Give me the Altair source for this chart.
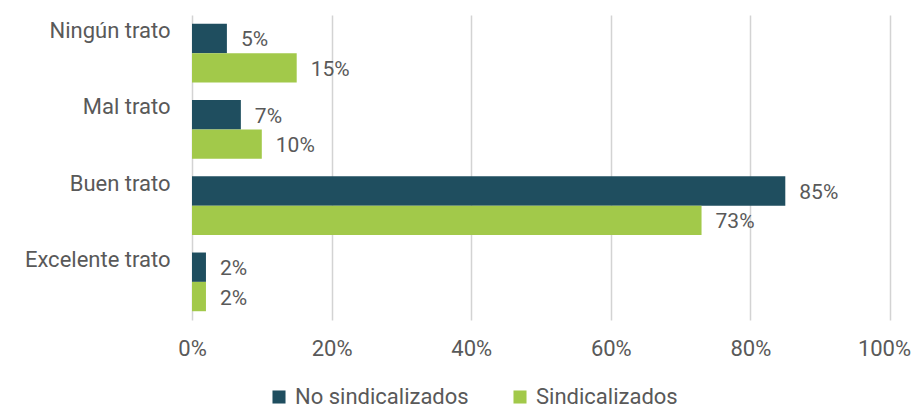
import altair as alt
import pandas as pd

categories = ["Ningún trato", "Mal trato", "Buen trato", "Excelente trato"]
series = ["No sindicalizados", "Sindicalizados"]
no_sind = [5, 7, 85, 2]
sind = [15, 10, 73, 2]
colors = ["#1F4E5F", "#A2C94A"]

rows = []
for c, a, b in zip(categories, no_sind, sind):
    rows.append({"cat": c, "serie": series[0], "val": a / 100, "lbl": f"{a}%"})
    rows.append({"cat": c, "serie": series[1], "val": b / 100, "lbl": f"{b}%"})
df = pd.DataFrame(rows)

FONT = "Roboto"
TXT = "#595959"

y = alt.Y("cat:N", sort=categories, title=None,
          scale=alt.Scale(paddingInner=0.23, paddingOuter=0.115),
          axis=alt.Axis(domain=False, ticks=False, labelPadding=22, labelOffset=-22,
                        labelFontSize=22, labelColor=TXT, labelFont=FONT, labelLimit=300))
x = alt.X("val:Q", title=None,
          scale=alt.Scale(domain=[0, 1], nice=False),
          axis=alt.Axis(format=".0%", values=[0, 0.2, 0.4, 0.6, 0.8, 1.0], domain=False, ticks=False,
                        labelFlush=False, labelPadding=18, labelFontSize=22, labelColor=TXT,
                        labelOffset={"expr": "datum.value >= 1 ? -6 : 0"},
                        labelFont=FONT, grid=True, gridColor="#d3d3d3", gridWidth=1.5))
yoff = alt.YOffset("serie:N", sort=series)

bars = alt.Chart(df).mark_bar().encode(
    y=y, x=x, yOffset=yoff,
    color=alt.Color("serie:N", sort=series, scale=alt.Scale(domain=series, range=colors),
                    legend=alt.Legend(title=None, orient="none", legendX=76, legendY=371,
                                      direction="horizontal", symbolType="square", symbolSize=170,
                                      symbolStrokeWidth=0, labelFontSize=22, labelColor=TXT,
                                      labelFont=FONT, columnPadding=40, labelOffset=5, labelLimit=300)),
)
labels = alt.Chart(df).mark_text(align="left", baseline="middle", dx=14, dy=2,
                                 fontSize=21, color=TXT, font=FONT).encode(
    y=y, x=x, yOffset=yoff, text="lbl:N")

chart = (bars + labels).properties(
    width=698, height=305,
    autosize=alt.AutoSizeParams(type="none"),
    padding={"left": 184, "top": 7, "right": 22, "bottom": 92},
).configure_view(stroke=None)

chart.save("out.html", embed_options={"renderer": "svg", "actions": False})
